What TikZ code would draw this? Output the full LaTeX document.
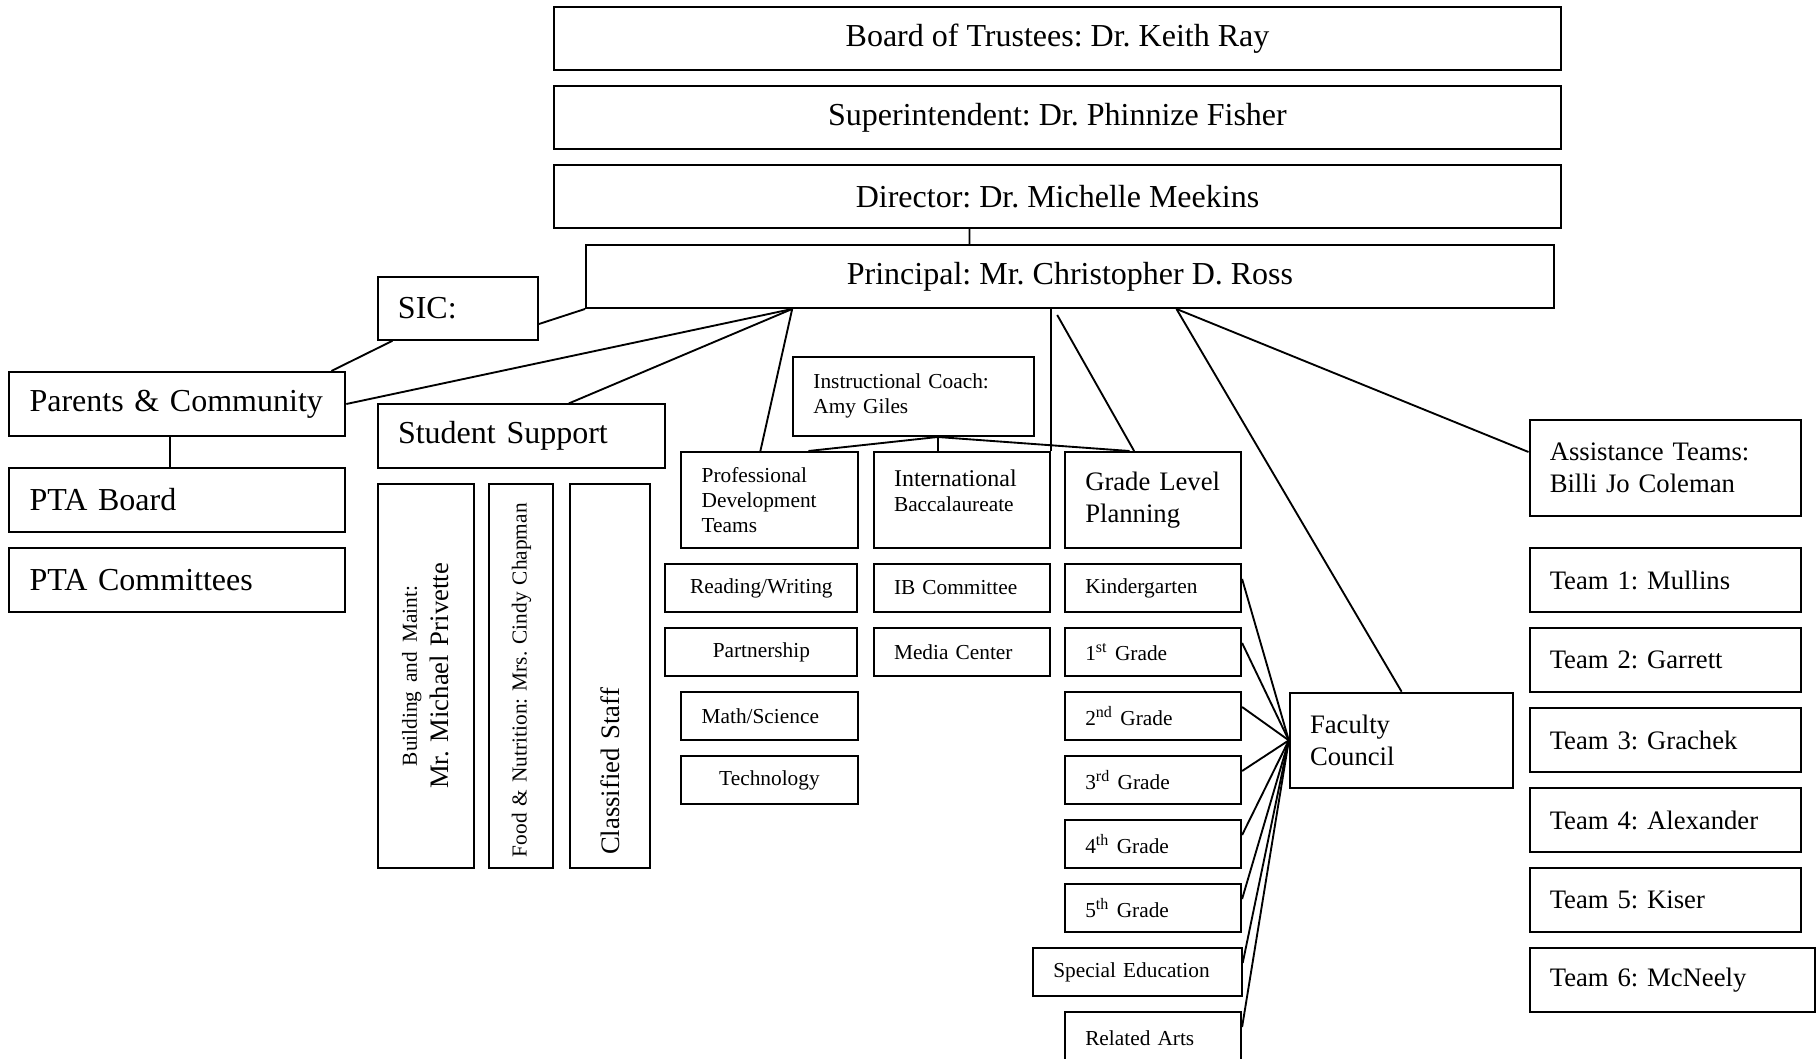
\documentclass[tikz,border=0pt]{standalone}
\usepackage{fontspec}
\setmainfont{Liberation Serif}
\frenchspacing

\begin{document}
\begin{tikzpicture}[x=1pt, y=-1pt,
  cell/.style={draw, line width=.75pt, inner xsep=7.6pt, inner ysep=0pt, align=left},
  fbig/.style={font=\fontsize{12}{14}\selectfont},
  fmid/.style={font=\fontsize{10}{12}\selectfont},
  fsmall/.style={font=\fontsize{8}{9.4}\selectfont},
  link/.style={line width=.7pt}]
\useasboundingbox (0,0) rectangle (681.375,397.125);

% district and school leadership
\node[cell, fbig, align=center, minimum width=377.6pt, minimum height=23.6pt] (board) at (396.56,14.44) {Board of Trustees: Dr. Keith Ray};
\node[cell, fbig, align=center, minimum width=377.6pt, minimum height=23.6pt] (super) at (396.56,44.06) {Superintendent: Dr. Phinnize Fisher};
\node[cell, fbig, align=center, minimum width=377.6pt, minimum height=23.6pt] (director) at (396.56,73.69) {Director: Dr. Michelle Meekins};
\node[cell, fbig, align=center, minimum width=363pt, minimum height=23.6pt] (principal) at (401.25,103.69) {Principal: Mr. Christopher D. Ross};

% community side
\node[cell, fbig, text width=44.8pt, minimum height=23.6pt] (sic) at (171.64,115.63) {SIC:};
\node[cell, fbig, text width=110.8pt, minimum height=24pt] (parents) at (66.49,151.5) {Parents \& Community};
\node[cell, fbig, text width=110.8pt, minimum height=24pt] (ptaboard) at (66.49,187.5) {PTA Board};
\node[cell, fbig, text width=110.8pt, minimum height=24pt] (ptacomm) at (66.49,217.5) {PTA Committees};

% student support
\node[cell, fbig, text width=92.58pt, minimum height=23.9pt] (support) at (195.56,163.61) {Student Support};
\node[cell, rotate=90, align=center, text width=128.8pt, minimum height=36.19pt] (maint) at (159.66,253.5) {{\fontsize{8}{9}\selectfont Building and Maint:}\\\fontsize{10}{11.25}\selectfont Mr. Michael Privette};
\node[cell, fsmall, rotate=90, inner xsep=4.1pt, text width=135.8pt, minimum height=24pt] (food) at (195.56,253.5) {Food \& Nutrition: Mrs. Cindy Chapman};
\node[cell, fmid, rotate=90, inner xsep=4.9pt, text width=134.2pt, minimum height=30.19pt] (staff) at (228.66,253.5) {Classified Staff};

% instruction
\node[cell, fsmall, text width=75.1pt, minimum height=29.74pt] (coach) at (342.6,148.63) {Instructional Coach:\\Amy Giles};
\node[cell, fsmall, text width=50.84pt, minimum height=36pt] (pd) at (288.54,187.5) {Professional\\Development\\Teams};
\node[cell, fsmall, text width=50.84pt, minimum height=36pt, text depth=16.6pt] (ib) at (360.68,187.5) {{\fontsize{9}{9.3}\selectfont International}\\Baccalaureate};
\node[cell, fmid, text width=50.84pt, minimum height=36pt] (glp) at (432.39,187.5) {Grade Level\\Planning};

\node[cell, fsmall, align=center, text width=56.9pt, minimum height=18pt] (read) at (285.5,220.5) {Reading/Writing};
\node[cell, fsmall, align=center, text width=56.9pt, minimum height=18pt] (partner) at (285.5,244.5) {Partnership};
\node[cell, fsmall, text width=50.84pt, minimum height=18pt] (math) at (288.54,268.5) {Math/Science};
\node[cell, fsmall, align=center, text width=50.84pt, minimum height=18pt] (tech) at (288.54,292.5) {Technology};
\node[cell, fsmall, text width=50.84pt, minimum height=18pt] (ibc) at (360.68,220.5) {IB Committee};
\node[cell, fsmall, text width=50.84pt, minimum height=18pt] (media) at (360.68,244.5) {Media Center};

% grade levels
\node[cell, fsmall, text width=50.84pt, minimum height=18pt] (kg) at (432.39,220.5) {Kindergarten};
\node[cell, fsmall, text width=50.84pt, minimum height=18pt] (g1) at (432.39,244.5) {1\textsuperscript{st} Grade};
\node[cell, fsmall, text width=50.84pt, minimum height=18pt] (g2) at (432.39,268.5) {2\textsuperscript{nd} Grade};
\node[cell, fsmall, text width=50.84pt, minimum height=18pt] (g3) at (432.39,292.5) {3\textsuperscript{rd} Grade};
\node[cell, fsmall, text width=50.84pt, minimum height=18pt] (g4) at (432.39,316.5) {4\textsuperscript{th} Grade};
\node[cell, fsmall, text width=50.84pt, minimum height=18pt] (g5) at (432.39,340.5) {5\textsuperscript{th} Grade};
\node[cell, fsmall, text width=63.06pt, minimum height=18pt] (sped) at (426.5,364.5) {Special Education};
\node[cell, fsmall, text width=50.84pt, minimum height=20pt] (arts) at (432.39,389.5) {Related Arts};

\node[cell, fmid, text width=68.65pt, minimum height=35.74pt] (faculty) at (525.6,277.63) {Faculty\\Council};

% assistance teams
\node[cell, fmid, text width=86.54pt, minimum height=36pt] (assist) at (624.43,175.5) {Assistance Teams:\\Billi Jo Coleman};
\node[cell, fmid, text width=86.54pt, minimum height=24pt] (team1) at (624.43,217.5) {Team 1: Mullins};
\node[cell, fmid, text width=86.54pt, minimum height=24pt] (team2) at (624.43,247.5) {Team 2: Garrett};
\node[cell, fmid, text width=86.54pt, minimum height=24pt] (team3) at (624.43,277.5) {Team 3: Grachek};
\node[cell, fmid, text width=86.54pt, minimum height=24pt] (team4) at (624.43,307.5) {Team 4: Alexander};
\node[cell, fmid, text width=86.54pt, minimum height=24pt] (team5) at (624.43,337.5) {Team 5: Kiser};
\node[cell, fmid, text width=91.86pt, minimum height=24pt] (team6) at (627.1,367.5) {Team 6: McNeely};

% connectors
\draw[link] ([xshift=-33pt]director.south) -- ([xshift=-37.7pt]principal.north);
\draw[link] (principal.south west) -- ([yshift=-5.9pt]sic.east);
\draw[link] ([xshift=5.9pt]sic.south west) -- ([xshift=-5.6pt]parents.north east);
\draw[link] ([xshift=-2.6pt]parents.south) -- ([xshift=-2.6pt]ptaboard.north);
\coordinate (p1) at ([xshift=77.7pt]principal.south west);
\draw[link] (p1) -- (parents.east);
\draw[link] (p1) -- ([xshift=72pt]support.north west);
\draw[link] (p1) -- ([xshift=30pt]pd.north west);
\draw[link] (principal.south -| ib.north east) -- (ib.north east);
\draw[link, shorten <=2.6pt] ([xshift=175.8pt]principal.south west) -- ([xshift=26.3pt]glp.north west);
\coordinate (hub) at ([xshift=9pt]coach.south);
\draw[link] (hub) -- ([xshift=48pt]pd.north west);
\draw[link] (hub) -- (hub |- ib.north);
\draw[link] (hub) -- ([xshift=24.6pt]glp.north west);
\coordinate (p2) at ([xshift=221.8pt]principal.south west);
\draw[link] (p2) -- (faculty.north);
\draw[link] (p2) -- ([yshift=6pt]assist.west);
\draw[link] (faculty.west) -- ([yshift=-6pt]kg.north east);
\draw[link] (faculty.west) -- ([yshift=-6pt]g1.north east);
\draw[link] (faculty.west) -- ([yshift=-6pt]g2.north east);
\draw[link] (faculty.west) -- ([yshift=-6pt]g3.north east);
\draw[link] (faculty.west) -- ([yshift=-6pt]g4.north east);
\draw[link] (faculty.west) -- ([yshift=-6pt]g5.north east);
\draw[link] (faculty.west) -- ([yshift=-6pt]sped.north east);
\draw[link] (faculty.west) -- ([yshift=-6pt]arts.north east);
\end{tikzpicture}
\end{document}
